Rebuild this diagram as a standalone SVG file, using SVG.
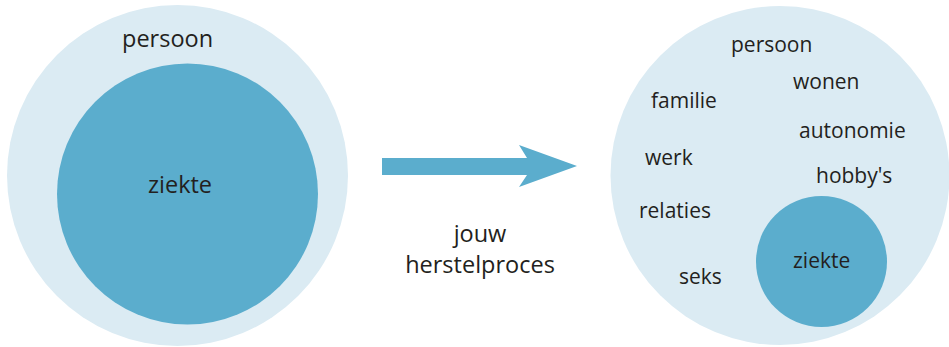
<svg xmlns="http://www.w3.org/2000/svg" width="949" height="347" viewBox="0 0 949 347">
<style>
.outer{fill:#dbebf3}
.inner{fill:#5badcd}
text{font-family:"Open Sans","Noto Sans",sans-serif;fill:#231f20}
.l{font-size:23.5px}
.r{font-size:21px}
</style>
<rect width="949" height="347" fill="#ffffff"/>
<g id="left-persoon">
<circle class="outer" cx="177.5" cy="175.5" r="170.5"/>
<text class="l" x="122" y="47">persoon</text>
</g>
<g id="left-ziekte">
<circle class="inner" cx="187.5" cy="194" r="130.5"/>
<text class="l" x="148" y="193">ziekte</text>
</g>
<g id="connectors">
<polygon fill="#5badcd" points="382,158 527,158 519,145 577,166 519,187 527,175 382,175"/>
<text class="l" x="480" y="242" text-anchor="middle">jouw</text>
<text class="l" x="480" y="273" text-anchor="middle">herstelproces</text>
</g>
<g id="right-persoon">
<circle class="outer" cx="780" cy="175.5" r="169.5"/>
<text class="r" x="731" y="52">persoon</text>
<text class="r" x="793" y="89">wonen</text>
<text class="r" x="651" y="108">familie</text>
<text class="r" x="799" y="138">autonomie</text>
<text class="r" x="645" y="165">werk</text>
<text class="r" x="816" y="183">hobby's</text>
<text class="r" x="639" y="218">relaties</text>
<text class="r" x="679" y="284">seks</text>
</g>
<g id="right-ziekte">
<circle class="inner" cx="821.5" cy="261.5" r="65.5"/>
<text class="r" x="793" y="268">ziekte</text>
</g>
</svg>
